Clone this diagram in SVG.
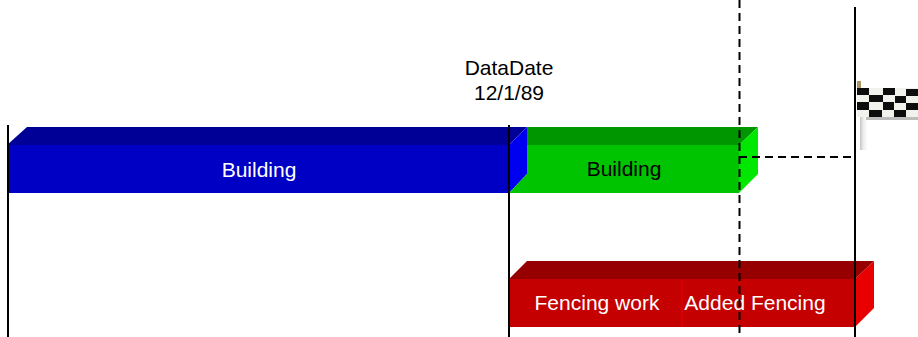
<svg xmlns="http://www.w3.org/2000/svg" width="918" height="337" viewBox="0 0 918 337">
<defs>
<style>
text{font-family:"Liberation Sans",Arial,sans-serif;font-size:21px;text-anchor:middle}
.w{fill:#fff}.k{fill:#000}
.ln{stroke:#000;stroke-width:2;fill:none}
.ds{stroke:#000;stroke-width:2;fill:none;stroke-dasharray:8 5}
.b{fill:#111}.c{fill:#f2f2ec}
</style>
<linearGradient id="pole" x1="0" x2="1" y1="0" y2="0"><stop offset="0" stop-color="#c4c4c4"/><stop offset="0.5" stop-color="#eeeeee"/><stop offset="1" stop-color="#fafafa"/></linearGradient>
<filter id="soft" x="-10%" y="-10%" width="120%" height="120%"><feGaussianBlur stdDeviation="0.6"/></filter>
</defs>
<g id="bar-building-actual">
<polygon points="7,145 27,127 527,127 509,145" fill="#000096"/>
<rect x="7" y="145" width="502" height="48" fill="#0000c4"/>
<polygon points="509,145 527,127 527,174 509,193" fill="#0000f0"/>
<text class="w" x="259" y="177">Building</text>
</g>
<g id="bar-building-remaining">
<polygon points="527,127 758,127 739,145 527,145" fill="#009600"/>
<polygon points="509,193 527,174 527,145 739,145 739,193" fill="#00c400"/>
<polygon points="739,145 758,127 758,174 739,193" fill="#00e800"/>
<text class="k" x="624" y="176">Building</text>
</g>
<g id="bar-fencing">
<polygon points="509,279 527,261 874,261 855,279" fill="#960000"/>
<rect x="508" y="279" width="347" height="48" fill="#c40000"/>
<polygon points="855,279 874,261 874,308 855,327" fill="#e80000"/>
<rect x="681" y="280" width="2" height="47" fill="#d80000"/>
<text class="w" x="597" y="310">Fencing work</text>
<text class="w" x="755" y="310">Added Fencing</text>
</g>
<g id="label-datadate">
<text class="k" x="509" y="75">DataDate</text>
<text class="k" x="509" y="100">12/1/89</text>
</g>
<g id="flag">
<g filter="url(#soft)">
<rect x="860" y="117" width="7" height="33" fill="url(#pole)"/>
<polygon points="866,116 918,116 918,120 866,120" fill="#bdbdbd"/>
<rect x="857" y="81" width="4" height="8" fill="#a89868"/>
<rect x="857" y="88" width="61" height="29" class="c"/>
<g class="b">
<rect x="857" y="88" width="12" height="7"/><rect x="883" y="88" width="12" height="7"/><rect x="906" y="89" width="12" height="7"/>
<rect x="869" y="95" width="14" height="7"/><rect x="895" y="96" width="11" height="7"/>
<rect x="857" y="102" width="12" height="8"/><rect x="883" y="102" width="11" height="8"/><rect x="906" y="103" width="12" height="7"/>
<rect x="869" y="110" width="13" height="7"/><rect x="894" y="110" width="12" height="7"/>
</g>
</g>
</g>
<g id="connectors">
<line class="ln" x1="8" y1="125" x2="8" y2="337"/>
<line class="ln" x1="509" y1="125" x2="509" y2="337"/>
<line class="ln" x1="855" y1="7" x2="855" y2="337"/>
<line class="ds" x1="739.5" y1="0" x2="739.5" y2="337"/>
<line class="ds" x1="739" y1="157" x2="855" y2="157"/>
</g>
</svg>
